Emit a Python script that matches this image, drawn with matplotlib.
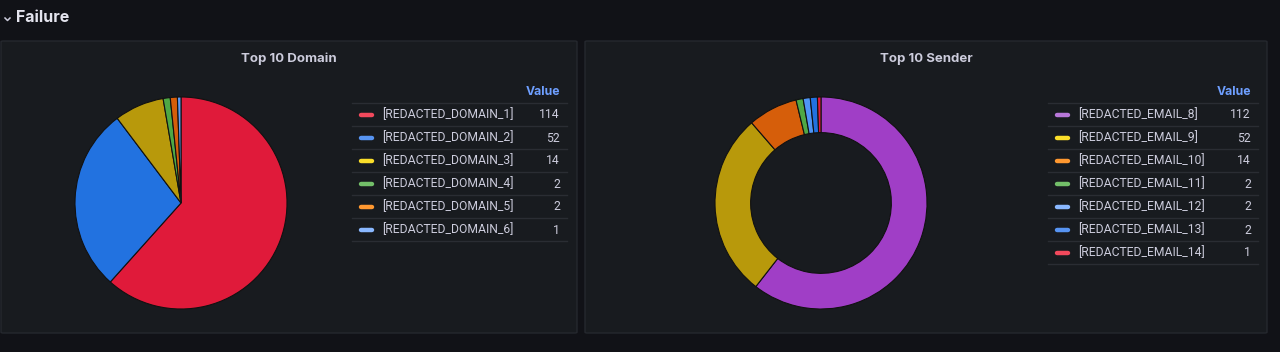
import matplotlib.pyplot as plt
from matplotlib.patches import FancyBboxPatch
from matplotlib.lines import Line2D

W, H = 1280, 352

domain_labels = ["[REDACTED_DOMAIN_1]", "[REDACTED_DOMAIN_2]", "[REDACTED_DOMAIN_3]",
                 "[REDACTED_DOMAIN_4]", "[REDACTED_DOMAIN_5]", "[REDACTED_DOMAIN_6]"]
domain_values = [114, 52, 14, 2, 2, 1]
domain_legend_colors = ["#f2495c", "#5794f2", "#fade2a", "#73bf69", "#ff9830", "#8ab8ff"]
domain_fill_colors = ["#e01a3a", "#2272e0", "#b8990b", "#4fa845", "#d65e0a", "#5f9cf5"]

sender_labels = ["[REDACTED_EMAIL_8]", "[REDACTED_EMAIL_9]", "[REDACTED_EMAIL_10]",
                 "[REDACTED_EMAIL_11]", "[REDACTED_EMAIL_12]", "[REDACTED_EMAIL_13]",
                 "[REDACTED_EMAIL_14]"]
sender_values = [112, 52, 14, 2, 2, 2, 1]
sender_legend_colors = ["#b877d9", "#fade2a", "#ff9830", "#73bf69", "#8ab8ff", "#5794f2", "#f2495c"]
sender_fill_colors = ["#a03ec6", "#b8990b", "#d65e0a", "#4fa845", "#4f95f5", "#2272e0", "#e01a3a"]

BG = "#111217"
PANEL = "#181b1f"
BORDER = "#25282e"
TEXT = "#ccccdc"
SEP = "#2a2d33"

fig = plt.figure(figsize=(W / 100, H / 100), dpi=100)
fig.patch.set_facecolor(BG)


def fx(x):
    return x / W


def fy(y):
    return 1 - y / H


def panel(x0, y0, x1, y1, title):
    p = FancyBboxPatch((fx(x0), fy(y1)), fx(x1 - x0), (y1 - y0) / H,
                       boxstyle="round,pad=0,rounding_size=0.002",
                       transform=fig.transFigure, facecolor=PANEL,
                       edgecolor=BORDER, linewidth=1, zorder=-5)
    fig.patches.append(p)
    fig.text(fx((x0 + x1) / 2), fy(59), title, color=TEXT, fontsize=9.5,
             fontweight="bold", family="Inter", ha="center", va="center")


def pie(cx, cy, r, values, colors, width=None):
    ax = fig.add_axes([fx(cx - r - 2), fy(cy + r + 2), fx(2 * r + 4), (2 * r + 4) / H])
    ax.set_facecolor("none")
    ax.set_zorder(2)
    wp = {"edgecolor": "#111111", "linewidth": 0.8}
    if width:
        wp["width"] = width
    ax.pie(values, colors=colors, startangle=90, counterclock=False,
           wedgeprops=wp, radius=r / (r + 2))
    ax.set_aspect("equal")
    ax.set_xlim(-1, 1)
    ax.set_ylim(-1, 1)
    ax.axis("off")


def legend(x0, x1, mark_x, val_x, labels, values, colors):
    fig.text(fx(val_x), fy(92), "Value", color="#6e9fff", fontsize=8.8,
             fontweight="bold", family="Inter", ha="right", va="center")
    for i in range(len(labels) + 1):
        y = 103 + 23 * i
        fig.add_artist(Line2D([fx(x0), fx(x1)], [fy(y), fy(y)], color=SEP, linewidth=1))
    for i, (lab, val, col) in enumerate(zip(labels, values, colors)):
        y = 115 + 23 * i
        fig.add_artist(Line2D([fx(mark_x + 1), fx(mark_x + 12)], [fy(y), fy(y)],
                              color=col, linewidth=3.2, solid_capstyle="round"))
        fig.text(fx(mark_x + 22), fy(y), lab, color=TEXT, fontsize=8.7,
                 family="Roboto", ha="left", va="center")
        fig.text(fx(val_x), fy(y), str(val), color=TEXT, fontsize=8.7,
                 family="Roboto", ha="right", va="center")


# section header
fig.add_artist(Line2D([fx(5), fx(7.5), fx(10)], [fy(18), fy(20.5), fy(18)],
                      color=TEXT, linewidth=1.1))
fig.text(fx(16), fy(18), "Failure", color="#e4e4ee", fontsize=11.5,
         fontweight="bold", family="Inter", ha="left", va="center")

panel(1, 41, 577, 333, "Top 10 Domain")
panel(585, 41, 1267, 333, "Top 10 Sender")

pie(181, 203, 106, domain_values, domain_fill_colors)
pie(821, 203, 106, sender_values, sender_fill_colors, width=0.33)

legend(352, 567, 360, 560, domain_labels, domain_values, domain_legend_colors)
legend(1048, 1258, 1056, 1251, sender_labels, sender_values, sender_legend_colors)

fig.savefig("out.png", dpi=100, facecolor=BG)
